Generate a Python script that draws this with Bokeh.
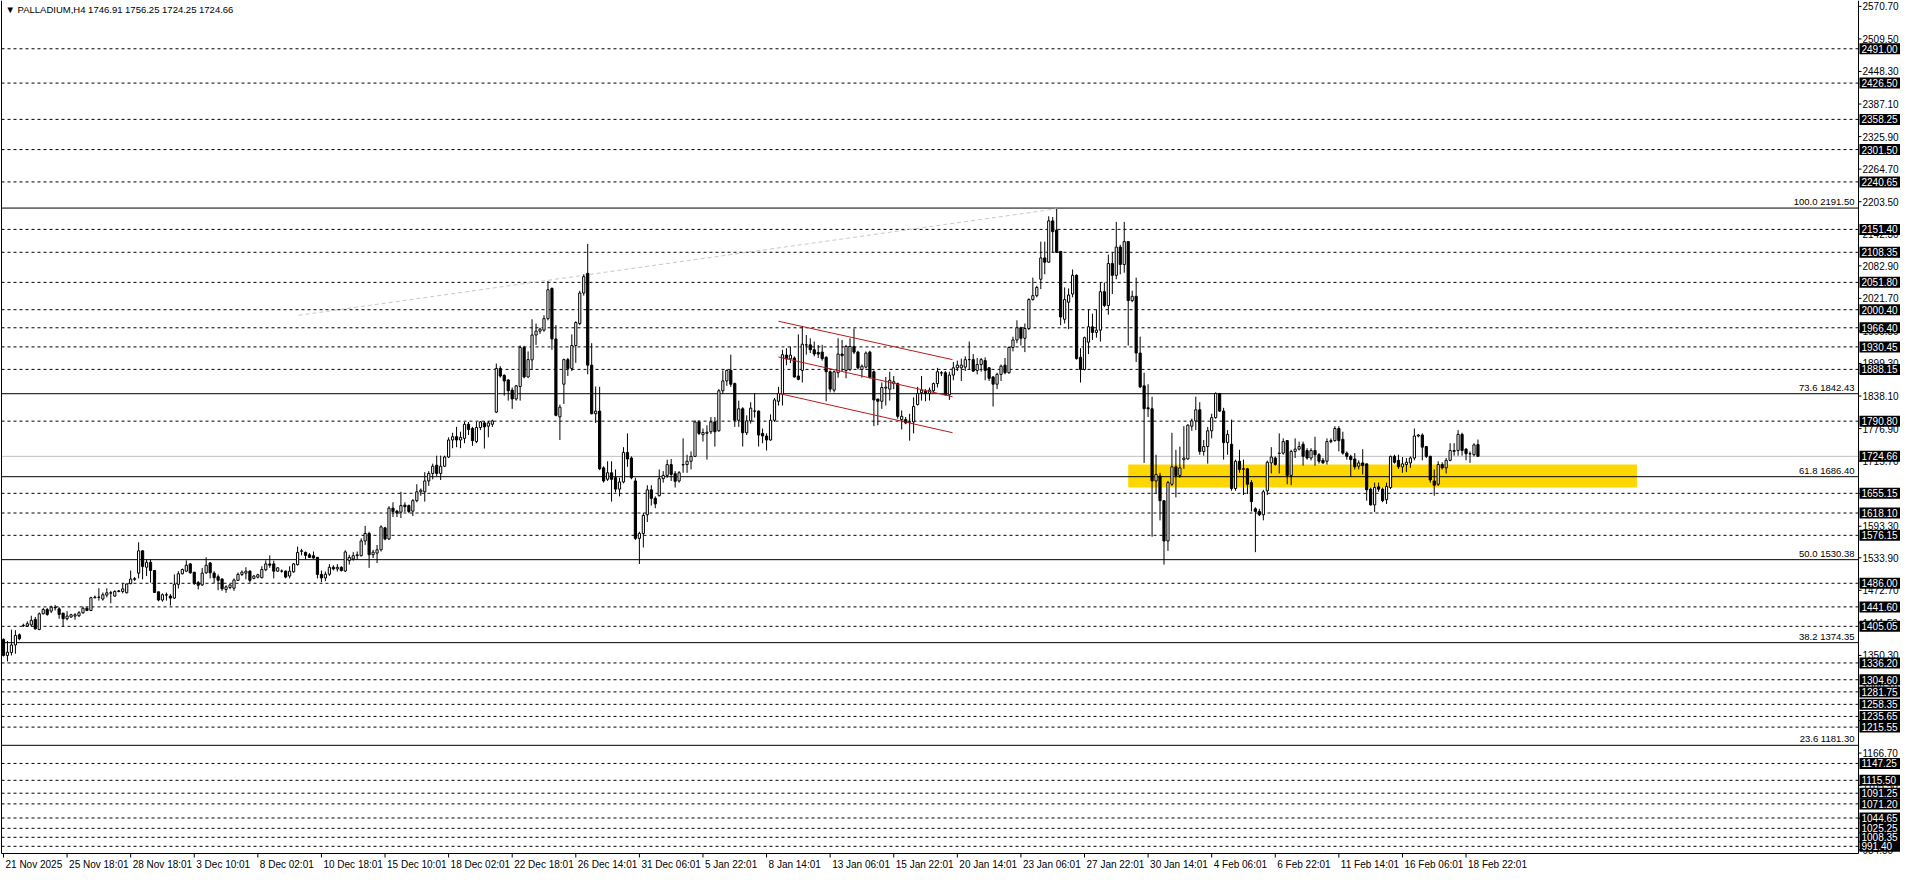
from bokeh.plotting import figure
from bokeh.models import Range1d, Label, ColumnDataSource
from bokeh.embed import file_html
from bokeh.resources import INLINE
from bokeh.core.properties import value

# ---------------- data (PALLADIUM, H4) ----------------
opens = [
1380.5,1350.3,1355.9,1370.0,1389.0,1406.0,1405.8,1407.7,1418.1,1399.0,
1428.6,1436.6,1433.6,1441.0,1437.9,1429.9,1419.4,1422.5,1424.3,1424.9,
1430.5,1439.1,1434.8,1458.8,1460.0,1456.4,1463.8,1468.1,1461.9,1470.6,
1470.6,1468.1,1485.4,1493.4,1505.1,1547.0,1516.2,1525.4,1510.0,1469.9,
1454.5,1464.4,1461.9,1458.2,1484.1,1503.9,1508.8,1522.4,1506.9,1487.2,
1482.9,1505.7,1524.2,1505.1,1498.3,1494.0,1474.3,1478.0,1476.7,1491.5,
1502.6,1505.1,1508.8,1495.2,1497.4,1496.5,1511.3,1522.4,1522.4,1508.8,
1509.0,1508.8,1499.6,1507.6,1521.1,1546.0,1544.0,1539.6,1537.8,1534.7,
1502.6,1496.0,1503.0,1516.0,1513.0,1516.0,1509.0,1528.5,1531.6,1538.0,
1537.8,1565.5,1579.7,1539.6,1542.7,1548.9,1590.2,1569.2,1627.2,1621.6,
1619.7,1633.0,1632.0,1621.6,1641.3,1658.0,1658.0,1678.4,1692.5,1708.0,
1692.5,1706.1,1723.4,1755.4,1761.6,1755.4,1758.5,1785.0,1777.0,1752.4,
1778.9,1787.5,1781.4,1785.0,1807.9,1889.9,1877.0,1868.3,1849.2,1832.5,
1856.0,1929.4,1873.9,1906.0,1952.8,1960.0,1962.0,1983.6,2040.4,1945.4,
1799.0,1860.3,1906.5,1889.9,1933.1,1974.4,2031.7,2068.7,1896.1,1804.8,
1809.7,1703.0,1681.5,1693.8,1684.5,1663.0,1676.5,1732.0,1721.5,1678.4,
1570.4,1579.7,1614.8,1661.7,1645.7,1650.6,1682.7,1688.8,1709.2,1692.0,
1678.4,1708.5,1709.2,1715.4,1724.6,1789.4,1765.3,1768.0,1770.9,1789.4,
1772.7,1848.0,1866.5,1886.2,1861.5,1792.5,1814.1,1769.0,1791.2,1810.0,
1809.7,1767.8,1762.9,1755.4,1792.5,1828.2,1841.8,1915.0,1908.0,1909.6,
1875.7,1886.2,1934.0,1934.3,1925.1,1920.0,1920.7,1910.9,1883.7,1849.2,
1881.9,1917.0,1886.2,1888.0,1931.2,1920.7,1888.0,1892.4,1920.7,1883.7,
1832.5,1828.2,1853.0,1851.0,1861.5,1861.5,1793.7,1793.7,1789.0,1789.4,
1822.0,1844.3,1846.7,1843.0,1847.9,1861.5,1881.2,1881.9,1840.5,1877.5,
1891.1,1891.1,1892.4,1906.5,1906.5,1886.2,1897.3,1904.7,1891.1,1873.9,
1860.3,1878.8,1896.1,1881.9,1929.4,1943.5,1966.4,1946.6,1965.1,2019.4,
2026.8,2057.6,2097.7,2089.7,2167.4,2150.1,2110.0,1982.4,2014.5,2029.9,
2065.0,1910.9,1888.0,1939.2,1968.2,1957.7,1962.0,2034.2,2008.3,2087.2,
2065.0,2118.1,2085.4,2128.5,2017.5,2025.6,1918.9,1857.2,1815.9,1814.1,
1678.4,1687.6,1641.3,1565.5,1672.2,1704.9,1688.8,1718.5,1719.7,1781.4,
1791.2,1812.2,1733.9,1743.1,1772.7,1797.4,1843.0,1809.7,1750.5,1747.4,
1664.2,1715.4,1701.2,1701.2,1675.3,1626.0,1621.0,1614.8,1659.9,1712.3,
1721.5,1730.0,1730.8,1754.2,1688.8,1733.9,1738.2,1747.4,1735.7,1721.5,
1735.7,1727.7,1717.2,1715.4,1752.4,1754.2,1777.0,1756.7,1730.8,1724.6,
1719.7,1706.1,1712.3,1710.5,1663.0,1633.4,1667.3,1663.0,1643.2,1666.0,
1724.6,1717.2,1704.9,1709.2,1712.3,1721.5,1762.9,1764.7,1743.1,1724.6,
1678.4,1672.2,1709.2,1703.0,1717.2,1734.0,1735.7,1765.9,1738.2,1729.6,
1727.7,1746.91]

highs = [
1382.4,1377.4,1399.0,1397.8,1391.6,1410.0,1414.4,1424.9,1422.5,1431.1,
1439.7,1439.7,1444.0,1445.3,1441.0,1429.9,1433.6,1428.6,1429.9,1433.6,
1442.2,1441.0,1460.7,1463.0,1476.7,1468.7,1476.7,1471.8,1473.0,1473.5,
1485.4,1485.4,1510.0,1497.7,1563.0,1548.0,1530.4,1530.4,1510.0,1470.0,
1466.9,1468.7,1465.6,1502.6,1508.8,1513.7,1529.1,1524.0,1507.0,1490.3,
1514.9,1534.7,1526.0,1508.8,1502.6,1495.2,1482.3,1484.1,1495.2,1506.3,
1510.0,1516.2,1510.6,1501.4,1503.9,1518.0,1529.1,1538.4,1528.5,1516.2,
1512.0,1510.0,1518.0,1524.2,1555.0,1550.7,1545.8,1542.7,1545.8,1535.0,
1510.0,1508.0,1522.0,1520.0,1522.0,1518.0,1548.0,1539.6,1544.5,1545.8,
1570.4,1593.9,1582.8,1548.9,1558.1,1595.0,1592.0,1630.9,1638.3,1624.0,
1658.0,1638.3,1634.0,1644.4,1672.2,1664.2,1695.0,1696.9,1711.0,1725.9,
1725.9,1725.9,1760.4,1769.0,1780.1,1770.9,1789.4,1789.4,1780.1,1789.4,
1791.2,1791.2,1791.2,1793.7,1899.1,1894.2,1878.8,1869.5,1854.1,1859.0,
1933.1,1932.5,1922.0,1982.4,1974.4,1966.4,1989.8,2054.5,2042.2,1971.3,
1822.0,1908.4,1909.6,1954.0,1978.7,2036.0,2066.9,2124.2,1937.4,1856.0,
1855.3,1706.0,1715.4,1715.4,1700.0,1684.5,1741.9,1767.8,1724.6,1684.5,
1582.8,1618.5,1670.4,1670.4,1649.4,1700.0,1696.9,1718.5,1719.7,1696.9,
1696.9,1758.5,1727.7,1733.9,1792.5,1792.5,1777.0,1783.0,1798.6,1798.6,
1851.0,1886.2,1888.0,1915.8,1863.4,1829.5,1817.1,1801.7,1826.4,1843.0,
1811.0,1777.0,1767.8,1803.5,1834.4,1855.3,1925.1,1928.0,1931.0,1912.7,
1954.0,1970.0,1952.8,1946.6,1940.5,1934.0,1934.3,1912.7,1886.2,1886.2,
1946.6,1943.5,1934.3,1946.6,1965.1,1923.2,1897.3,1922.0,1923.2,1886.2,
1832.5,1863.4,1873.9,1883.7,1875.7,1863.4,1811.0,1798.6,1804.8,1835.6,
1855.3,1875.7,1851.0,1854.1,1863.4,1891.1,1885.0,1885.0,1883.7,1902.2,
1904.7,1908.4,1912.7,1940.5,1917.0,1909.6,1909.6,1910.9,1892.4,1875.7,
1881.9,1897.3,1909.6,1931.2,1949.7,1980.5,1968.2,1974.4,2021.9,2060.7,
2045.3,2128.5,2128.5,2176.0,2174.8,2190.2,2110.0,2042.2,2040.4,2076.1,
2066.9,1928.1,1949.7,2000.9,1992.9,2000.9,2051.5,2051.5,2103.9,2108.2,
2165.5,2122.4,2165.5,2128.5,2036.0,2060.7,1949.7,1881.9,1860.3,1836.8,
1727.7,1693.8,1641.3,1678.4,1769.0,1736.9,1743.0,1781.4,1785.0,1795.5,
1836.9,1826.4,1755.4,1780.1,1804.8,1844.9,1843.0,1815.9,1774.0,1793.7,
1718.5,1737.0,1718.5,1703.0,1680.2,1629.0,1626.0,1661.7,1716.6,1741.9,
1724.6,1767.8,1758.5,1755.4,1737.0,1758.5,1752.4,1752.4,1740.0,1740.0,
1761.6,1730.8,1721.5,1758.5,1758.5,1781.4,1781.4,1770.9,1733.9,1727.7,
1730.8,1717.2,1738.2,1711.0,1666.0,1675.3,1675.3,1666.0,1675.3,1725.9,
1727.7,1727.7,1723.4,1721.5,1724.6,1777.0,1766.6,1767.8,1744.3,1725.9,
1700.0,1715.4,1713.5,1721.5,1749.3,1749.3,1774.0,1769.0,1740.0,1733.9,
1749.3,1756.25]

lows = [
1348.4,1339.0,1350.3,1353.4,1379.0,1404.0,1404.0,1404.0,1399.0,1397.8,
1427.4,1424.9,1429.9,1434.8,1419.4,1404.0,1416.3,1421.2,1417.5,1422.5,
1428.6,1433.6,1433.6,1457.6,1453.3,1453.3,1459.4,1448.4,1460.7,1469.0,
1466.9,1467.0,1484.1,1490.3,1495.2,1493.4,1499.6,1487.2,1468.0,1452.1,
1451.5,1453.3,1444.0,1456.4,1476.1,1502.6,1506.9,1503.9,1482.9,1474.3,
1481.0,1503.9,1495.2,1486.6,1473.0,1471.8,1468.1,1474.9,1471.8,1490.3,
1499.6,1493.4,1487.2,1493.4,1495.2,1495.2,1508.8,1515.0,1495.2,1507.6,
1506.0,1495.2,1495.2,1505.7,1519.3,1538.4,1530.4,1533.5,1532.2,1495.2,
1488.0,1490.0,1500.0,1510.0,1508.0,1508.0,1507.0,1521.1,1528.5,1530.4,
1536.5,1558.1,1514.9,1533.4,1524.0,1545.8,1567.0,1567.4,1610.5,1610.5,
1608.7,1619.7,1618.0,1612.4,1638.3,1650.6,1639.5,1669.1,1681.5,1687.6,
1680.2,1704.9,1721.5,1740.0,1741.9,1740.0,1749.3,1764.7,1744.3,1749.3,
1774.0,1739.4,1760.4,1780.0,1806.0,1872.6,1838.7,1829.5,1814.0,1829.5,
1829.5,1871.4,1872.6,1886.8,1934.3,1955.0,1959.0,1980.5,1925.1,1799.9,
1755.4,1823.3,1875.7,1885.0,1900.4,1971.3,2026.8,1878.8,1803.6,1787.5,
1698.7,1675.3,1678.4,1639.5,1656.8,1649.4,1674.0,1704.9,1681.5,1567.4,
1522.3,1553.2,1601.3,1632.1,1627.2,1649.4,1675.3,1684.5,1678.4,1666.0,
1675.3,1693.8,1693.8,1700.0,1723.4,1764.7,1752.4,1718.5,1766.6,1743.1,
1770.9,1841.8,1857.2,1855.3,1780.1,1780.1,1743.1,1764.7,1786.3,1797.4,
1743.1,1749.3,1735.7,1754.2,1789.4,1820.2,1820.2,1896.0,1900.0,1872.6,
1867.7,1863.4,1915.8,1918.9,1912.7,1909.6,1904.7,1828.2,1844.9,1844.9,
1872.6,1885.0,1871.4,1885.0,1917.0,1888.0,1872.6,1889.9,1871.4,1781.4,
1783.2,1814.0,1820.2,1829.5,1851.0,1795.5,1775.2,1785.0,1754.2,1767.8,
1820.2,1829.5,1828.2,1829.5,1844.9,1854.1,1875.7,1838.7,1830.7,1867.7,
1885.0,1866.5,1885.0,1888.0,1883.7,1878.8,1883.7,1867.7,1866.5,1818.3,
1851.0,1866.5,1878.8,1880.0,1922.0,1937.4,1933.0,1920.7,1962.0,2017.5,
2023.7,2039.1,2066.9,2088.5,2108.2,2107.0,1971.3,1974.4,1963.9,2023.7,
1906.5,1863.4,1886.2,1917.0,1943.5,1947.8,1940.5,2005.2,1991.0,2029.9,
2057.6,2066.9,2070.0,1933.0,2014.5,1902.2,1852.9,1712.3,1798.6,1573.5,
1653.7,1604.3,1521.1,1547.0,1669.1,1647.5,1684.5,1701.0,1718.5,1772.7,
1774.0,1727.7,1725.9,1711.0,1758.5,1795.5,1807.9,1718.5,1727.7,1659.9,
1659.9,1693.8,1651.9,1653.7,1621.0,1544.5,1612.4,1604.3,1651.9,1692.5,
1707.3,1692.5,1727.7,1672.2,1670.4,1721.5,1735.7,1707.3,1718.5,1717.0,
1707.3,1711.0,1711.0,1709.2,1749.3,1752.4,1733.9,1727.7,1718.5,1686.4,
1700.0,1700.0,1690.7,1641.3,1632.1,1619.8,1658.0,1638.3,1635.2,1663.0,
1711.0,1701.2,1693.8,1695.0,1703.0,1717.2,1760.4,1717.2,1721.5,1675.3,
1650.6,1669.1,1700.0,1692.5,1715.4,1725.9,1725.9,1725.9,1717.2,1712.3,
1724.6,1724.25]

closes = [
1350.3,1356.5,1370.0,1388.0,1381.7,1407.0,1410.0,1416.3,1400.3,1428.6,
1436.6,1427.4,1441.0,1439.7,1427.4,1419.4,1424.3,1426.8,1426.8,1430.5,
1439.1,1434.8,1458.8,1460.0,1459.4,1464.4,1468.1,1467.5,1470.6,1471.8,
1475.5,1484.7,1494.0,1494.6,1547.0,1517.4,1525.4,1510.0,1468.7,1454.5,
1464.4,1463.8,1458.2,1484.1,1503.9,1511.9,1519.9,1505.7,1485.4,1482.3,
1505.1,1519.9,1505.7,1496.5,1491.5,1475.5,1479.2,1482.9,1492.1,1502.6,
1507.0,1508.8,1491.5,1499.6,1502.0,1511.9,1522.4,1520.0,1508.8,1515.0,
1508.8,1497.7,1508.8,1522.4,1544.0,1547.0,1538.4,1534.7,1533.5,1502.6,
1496.0,1503.0,1516.0,1513.0,1516.0,1510.0,1545.0,1534.7,1537.8,1539.6,
1565.5,1579.7,1539.6,1544.5,1548.9,1592.0,1569.2,1627.2,1621.0,1618.0,
1632.1,1630.0,1621.0,1641.3,1658.0,1661.0,1678.4,1692.5,1706.1,1692.5,
1706.1,1723.4,1755.4,1761.6,1755.4,1760.4,1785.0,1775.2,1754.2,1778.9,
1789.4,1780.1,1787.5,1791.2,1889.9,1875.7,1866.5,1848.0,1832.5,1857.2,
1929.4,1873.9,1906.5,1952.8,1960.2,1963.9,1983.6,2037.9,1945.4,1801.7,
1817.1,1906.5,1889.9,1933.1,1976.2,2031.7,2062.6,1896.1,1804.8,1809.7,
1701.2,1678.4,1693.8,1681.5,1663.0,1676.5,1732.0,1719.7,1684.5,1570.4,
1579.7,1613.6,1661.7,1645.7,1635.2,1682.7,1688.8,1709.2,1690.7,1677.7,
1693.8,1709.2,1715.4,1724.6,1789.4,1767.8,1769.6,1770.0,1789.4,1770.9,
1848.0,1866.5,1886.2,1860.3,1792.5,1814.1,1769.0,1791.2,1815.3,1809.7,
1764.7,1762.9,1755.4,1792.5,1830.7,1843.0,1915.8,1908.0,1915.0,1873.9,
1869.5,1935.5,1934.3,1925.1,1917.0,1917.0,1908.4,1883.7,1851.0,1883.7,
1917.0,1914.0,1931.2,1931.2,1920.7,1891.1,1894.2,1918.9,1872.6,1830.7,
1828.2,1854.1,1854.7,1867.7,1865.0,1799.9,1799.9,1787.5,1789.4,1818.4,
1843.0,1849.2,1843.0,1849.2,1861.5,1883.7,1881.9,1840.5,1877.5,1891.1,
1896.1,1896.1,1906.5,1906.6,1884.9,1897.3,1906.5,1886.2,1871.4,1860.3,
1878.8,1894.2,1881.9,1929.4,1943.5,1966.4,1946.6,1965.1,2019.4,2026.8,
2042.2,2097.7,2089.7,2167.4,2147.1,2108.2,1986.7,2019.4,2028.0,2065.0,
1908.4,1888.0,1947.8,1968.2,1957.7,1962.0,2034.2,2008.3,2087.2,2065.0,
2118.1,2085.4,2128.5,2017.5,2025.6,1918.9,1855.3,1814.1,1814.1,1678.4,
1690.7,1641.3,1565.5,1675.3,1704.9,1688.8,1703.0,1721.5,1783.2,1791.2,
1812.2,1733.9,1743.1,1772.7,1797.4,1843.0,1809.7,1750.5,1765.9,1664.2,
1715.4,1700.0,1700.6,1672.2,1639.5,1621.0,1614.8,1658.0,1713.5,1723.4,
1709.2,1730.8,1752.4,1688.8,1733.9,1738.2,1743.1,1724.6,1721.5,1735.7,
1727.7,1715.4,1712.3,1752.4,1754.2,1777.0,1754.2,1730.8,1724.6,1718.5,
1704.9,1712.3,1707.3,1661.7,1633.4,1666.0,1663.0,1641.3,1667.9,1724.6,
1713.5,1704.9,1710.5,1713.5,1721.5,1762.9,1764.7,1741.9,1724.6,1680.2,
1670.4,1709.2,1703.0,1717.2,1735.7,1735.7,1765.9,1735.7,1729.6,1729.5,
1746.2,1724.66]

# bottom time labels (every 16 H4 bars)
time_tick_bars = [0, 16, 32, 48, 64, 80, 96, 112, 128, 144, 160, 176, 192, 208,
                  224, 240, 256, 272, 288, 304, 320, 336, 352, 368]
time_tick_labels = ["21 Nov 2025", "25 Nov 18:01", "28 Nov 18:01", "3 Dec 10:01",
                    "8 Dec 02:01", "10 Dec 18:01", "15 Dec 10:01", "18 Dec 02:01",
                    "22 Dec 18:01", "26 Dec 14:01", "31 Dec 06:01", "5 Jan 22:01",
                    "8 Jan 14:01", "13 Jan 06:01", "15 Jan 22:01", "20 Jan 14:01",
                    "23 Jan 06:01", "27 Jan 22:01", "30 Jan 14:01", "4 Feb 06:01",
                    "6 Feb 22:01", "11 Feb 14:01", "16 Feb 06:01", "18 Feb 22:01"]

# right price scale ticks
price_ticks = [2570.70, 2509.50, 2448.30, 2387.10, 2325.90, 2264.70, 2203.50, 2142.30,
               2082.90, 2021.70, 1960.50, 1899.30, 1838.10, 1776.90, 1715.70, 1654.50,
               1593.30, 1533.90, 1472.70, 1411.50, 1350.30, 1289.10, 1227.90, 1166.70,
               1105.50, 1044.30, 984.50]

# horizontal support/resistance levels (dashed)
levels = [2491.00, 2426.50, 2358.25, 2301.50, 2240.65, 2151.40, 2108.35, 2051.80,
          2000.40, 1966.40, 1930.45, 1888.15, 1790.80, 1655.15, 1618.10, 1576.15,
          1486.00, 1441.60, 1405.05, 1336.20, 1304.60, 1281.75, 1258.35, 1235.65,
          1215.55, 1147.25, 1115.50, 1091.25, 1071.20, 1044.65, 1025.25, 1008.35, 991.40]

# Fibonacci retracement levels
fib_pct = ["100.0", "73.6", "61.8", "50.0", "38.2", "23.6"]
fib_price = [2191.50, 1842.43, 1686.40, 1530.38, 1374.35, 1181.30]

last_price = 1724.66

# yellow zone (bar index range, price range)
zone_bars = [283, 411]
zone_prices = [1666.0, 1709.2]

# descending channel (bar index, price) for the three red lines
chan_bars = [195, 238.8]
chan_top = [1978.7, 1906.5]
chan_mid = [1911.5, 1836.8]
chan_bot = [1843.1, 1769.1]

# faint trend line to the top
trend_bars = [74.25, 265.1]
trend_prices = [1989.8, 2190.2]

title_text = "\u25BC PALLADIUM,H4  1746.91 1756.25 1724.25 1724.66"

# ---------------- geometry / style ----------------
FONT = value("Liberation Sans")
FS = value("10px")
FS_FIB = value("9.5px")
FIG_W, FIG_H = 1900, 872
CHART_PX_W, CHART_PX_H = 1857, 852       # chart area in px (rest: price / time scales)
BAR_LO, BAR_HI = -0.5, 466.75            # visible bar span of the chart area
P_TOP, P_BOT = 2579.9, 977.9             # visible price span of the chart area
ppb = CHART_PX_W / (BAR_HI - BAR_LO)     # px per bar
ppp = (P_TOP - P_BOT) / CHART_PX_H       # price per px


def dx(px):
    return px / ppb


def dy(px):
    return px * ppp


x0 = BAR_LO - dx(1)
y1 = P_TOP + dy(1)

n = len(closes)
assert len(opens) == n and len(highs) == n and len(lows) == n
idx = list(range(n))
src = ColumnDataSource(dict(
    x=idx, h=highs, l=lows,
    top=[max(a, b) for a, b in zip(opens, closes)],
    bottom=[min(a, b) for a, b in zip(opens, closes)],
    fill=["white" if c >= o else "black" for o, c in zip(opens, closes)],
))

p = figure(width=FIG_W, height=FIG_H, output_backend="svg", toolbar_location=None,
           x_range=Range1d(x0, x0 + dx(FIG_W)), y_range=Range1d(y1 - dy(FIG_H), y1),
           x_axis_location=None, y_axis_location=None,
           min_border_left=0, min_border_right=0, min_border_top=0, min_border_bottom=0)
p.grid.visible = False
p.background_fill_color = "white"
p.border_fill_color = "white"
p.outline_line_color = None

# yellow zone
p.quad(left=[zone_bars[0]], right=[zone_bars[1]], bottom=[zone_prices[0]],
       top=[zone_prices[1]], fill_color="#FFD700", line_color=None)

# dashed levels, fib levels, current price line
p.segment(x0=BAR_LO, x1=BAR_HI, y0=levels, y1=levels, line_color="black",
          line_width=1, line_dash="3 3")
p.segment(x0=BAR_LO, x1=BAR_HI, y0=fib_price, y1=fib_price, line_color="black", line_width=1)
p.segment(x0=BAR_LO, x1=BAR_HI, y0=[last_price], y1=[last_price],
          line_color="#C0C0C0", line_width=1)

# faint trend line
p.line(trend_bars, trend_prices, line_color="#C8C8C8", line_width=1, line_dash="4 3")

# candles
p.segment(x0="x", y0="l", x1="x", y1="h", source=src, line_color="black", line_width=1)
p.vbar(x="x", width=0.55, top="top", bottom="bottom", source=src,
       fill_color="fill", line_color="black", line_width=1)

# channel
for ys in (chan_top, chan_mid, chan_bot):
    p.line(chan_bars, ys, line_color="#B81C1C", line_width=1)

# chart borders: left edge, bottom (time axis line), right (price axis line)
p.segment(x0=[BAR_LO, BAR_LO, BAR_HI], y0=[P_BOT, P_BOT, P_BOT],
          x1=[BAR_LO, BAR_HI, BAR_HI], y1=[y1, P_BOT, y1],
          line_color="black", line_width=1)

# price scale: ticks + labels
p.segment(x0=BAR_HI, x1=BAR_HI + dx(3), y0=price_ticks, y1=price_ticks,
          line_color="black", line_width=1)
p.text(x=BAR_HI + dx(4), y=price_ticks, text=[f"{t:.2f}" for t in price_ticks],
       text_align="left", text_baseline="middle", text_font=FONT,
       text_font_size=FS, text_color="black")

# black boxed level labels on the scale
box_levels = levels + [last_price]
p.rect(x=BAR_HI + dx(1 + 20.5), y=box_levels, width=41, height=11,
       width_units="screen", height_units="screen", fill_color="black", line_color=None)
p.text(x=BAR_HI + dx(3), y=box_levels, text=[f"{v:.2f}" for v in box_levels],
       text_align="left", text_baseline="middle", text_font=FONT,
       text_font_size=FS, text_color="white")

# time scale: ticks + labels
p.segment(x0=time_tick_bars, x1=time_tick_bars, y0=P_BOT, y1=P_BOT - dy(4),
          line_color="black", line_width=1)
p.text(x=[b + dx(2) for b in time_tick_bars], y=P_BOT - dy(5), text=time_tick_labels,
       text_align="left", text_baseline="top", text_font=FONT,
       text_font_size=FS, text_color="black")

# fib labels
p.text(x=BAR_HI - dx(4), y=[f + dy(1) for f in fib_price],
       text=[f"{a} {b:.2f}" for a, b in zip(fib_pct, fib_price)],
       text_align="right", text_baseline="bottom", text_font=FONT,
       text_font_size=FS_FIB, text_color="black")

# title
p.add_layout(Label(x=BAR_LO, y=P_TOP, x_offset=4, y_offset=-2, text=title_text,
                   text_align="left", text_baseline="top",
                   text_font="Liberation Sans", text_font_size="9.5px", text_color="black"))

open("out.html", "w").write(file_html(p, INLINE))
